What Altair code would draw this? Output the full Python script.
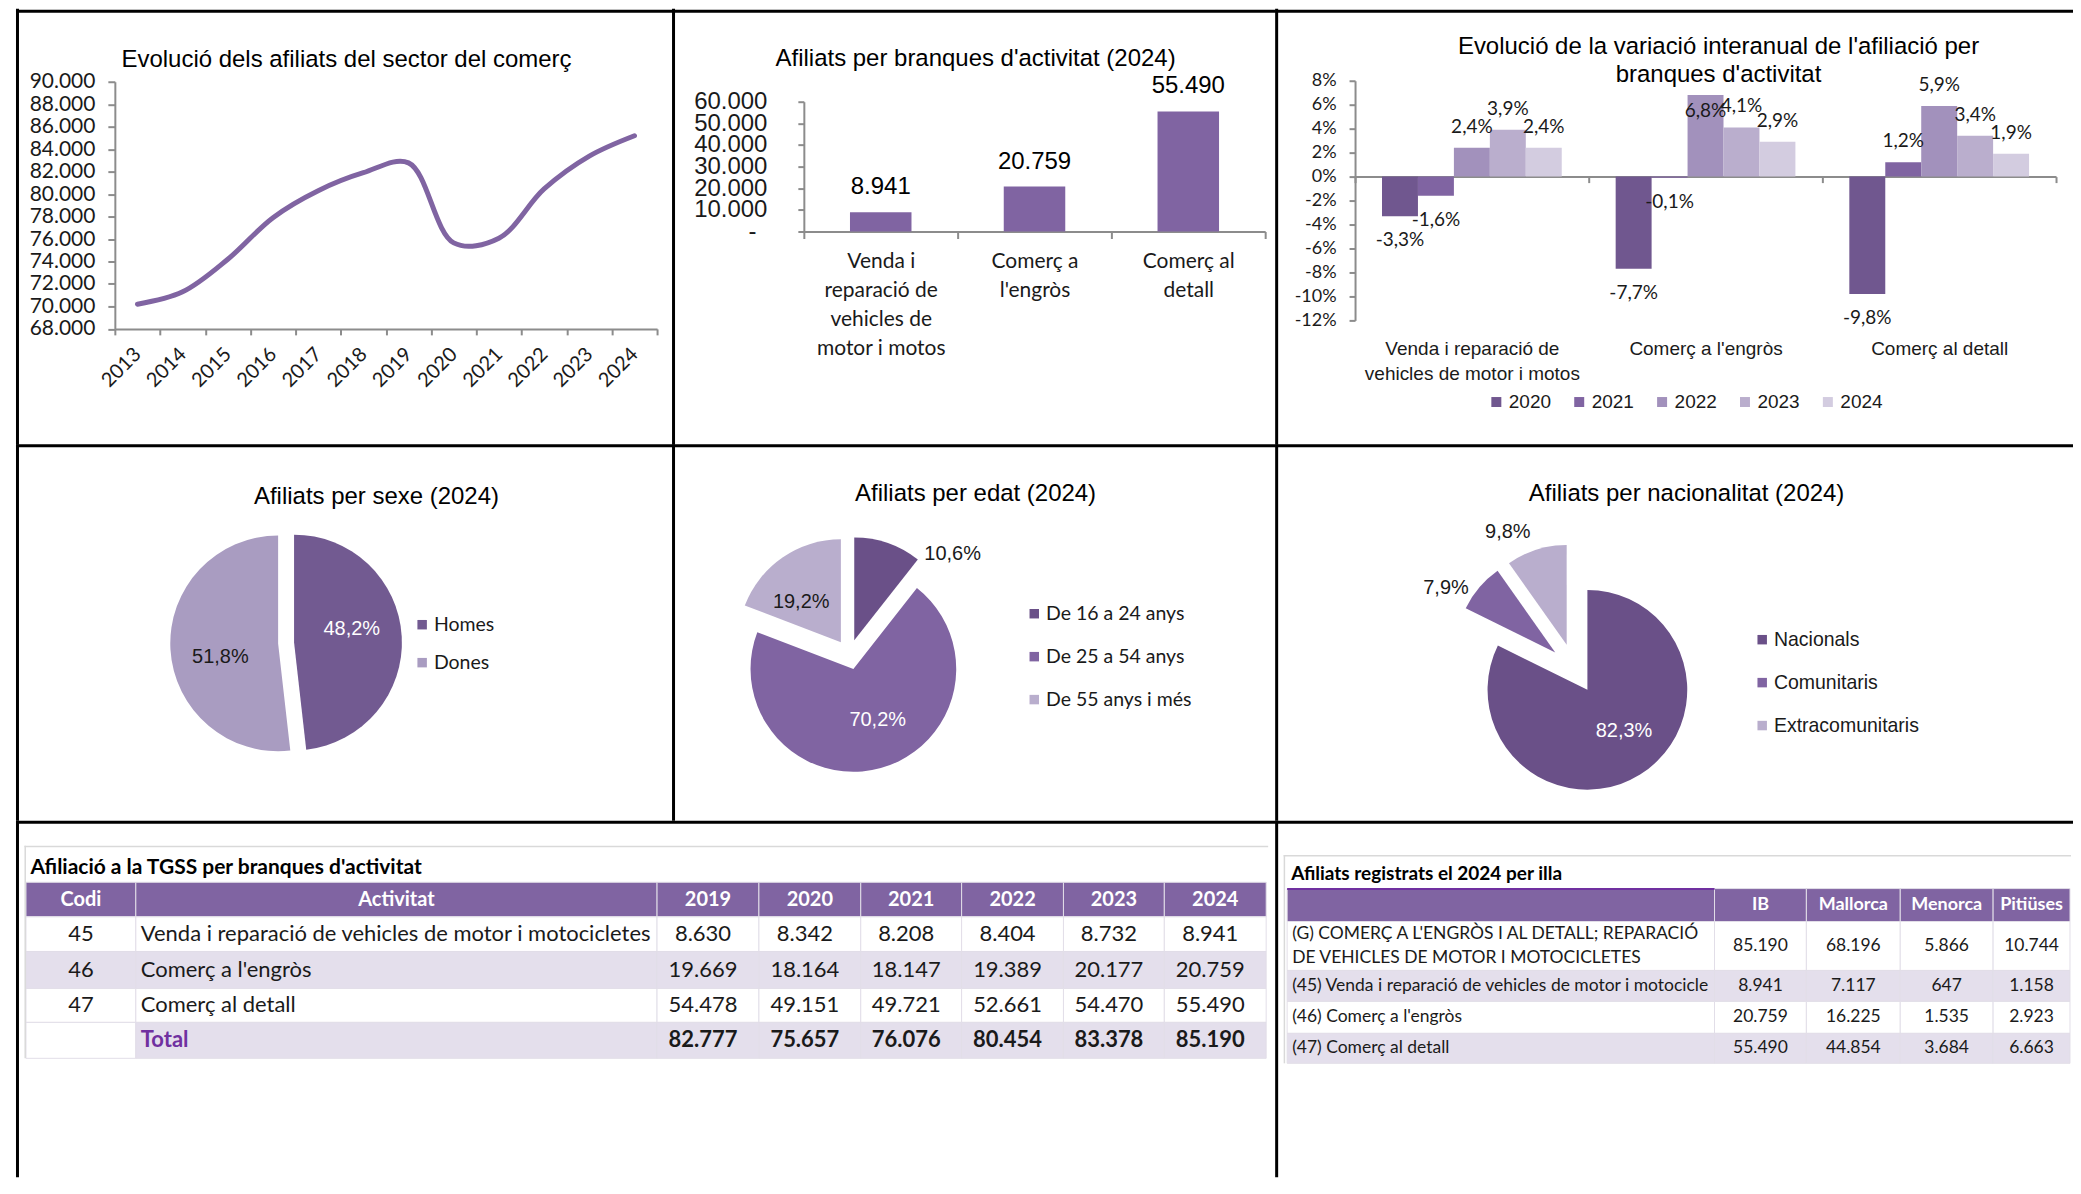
import json
import textwrap
import altair as alt
import pandas as pd

# ---------------- values ----------------
anys = ["2013", "2014", "2015", "2016", "2017", "2018", "2019", "2020", "2021", "2022", "2023", "2024"]
afiliats_comerc = [70200, 71300, 74200, 77900, 80300, 81900, 82777, 75657, 76076, 80454, 83378, 85190]

branques = ["Venda i reparació de vehicles de motor i motos", "Comerç a l'engròs", "Comerç al detall"]
afiliats_branca_2024 = [8941, 20759, 55490]

anys_var = ["2020", "2021", "2022", "2023", "2024"]
var_venda = [-3.3, -1.6, 2.4, 3.9, 2.4]
var_engros = [-7.7, -0.1, 6.8, 4.1, 2.9]
var_detall = [-9.8, 1.2, 5.9, 3.4, 1.9]

sexe = ["Homes", "Dones"]
sexe_pct = [48.2, 51.8]
edat = ["De 16 a 24 anys", "De 25 a 54 anys", "De 55 anys i més"]
edat_pct = [10.6, 70.2, 19.2]
nacionalitat = ["Nacionals", "Comunitaris", "Extracomunitaris"]
nacionalitat_pct = [82.3, 7.9, 9.8]

codis = ["45", "46", "47"]
activitats = ["Venda i reparació de vehicles de motor i motocicletes", "Comerç a l'engròs", "Comerç al detall"]
anys_taula = ["2019", "2020", "2021", "2022", "2023", "2024"]
taula_45 = [8630, 8342, 8208, 8404, 8732, 8941]
taula_46 = [19669, 18164, 18147, 19389, 20177, 20759]
taula_47 = [54478, 49151, 49721, 52661, 54470, 55490]
taula_total = [82777, 75657, 76076, 80454, 83378, 85190]

illes = ["IB", "Mallorca", "Menorca", "Pitiüses"]
files_illa = ["(G) COMERÇ A L'ENGRÒS I AL DETALL; REPARACIÓ DE VEHICLES DE MOTOR I MOTOCICLETES",
              "(45) Venda i reparació de vehicles de motor i motocicletes",
              "(46) Comerç a l'engròs",
              "(47) Comerç al detall"]
illa_ib = [85190, 8941, 20759, 55490]
illa_mallorca = [68196, 7117, 16225, 44854]
illa_menorca = [5866, 647, 1535, 3684]
illa_pitiuses = [10744, 1158, 2923, 6663]

# ---------------- styles ----------------
ARIAL = "Liberation Sans"
CAL = "Lato"
PURPLE = "#8064A2"
LAV = "#E4DFEC"
AXG = "#8C8C8C"
INK = "#1A1A1A"
FRAME = "#D9D9D9"
VAR_COLORS = ["#70578F", "#8064A2", "#A291BC", "#BAAECD", "#D3CCE0"]
SEXE_COLORS = ["#725A91", "#A99CC1"]
EDAT_COLORS = ["#6A5088", "#8064A2", "#B9AECD"]
NAC_COLORS = ["#6A5088", "#8064A2", "#B9AECD"]

DUMMY = pd.DataFrame({"k": [0]})
NUM = "replace(format({}, ','), ',', '.')"
IND = dict(x="independent", y="independent", color="independent", xOffset="independent",
           theta="independent")


def indep(ch):
    return ch.resolve_scale(**IND).resolve_axis(x="independent", y="independent").resolve_legend(
        color="independent")


def band(x1, x2, y1, y2, color="black"):
    # solid line drawn as a filled rectangle (exact bounds, no stroke padding)
    return alt.Chart(DUMMY).mark_rect(color=color).encode(
        x=alt.value(x1), x2=alt.value(x2), y=alt.value(y1), y2=alt.value(y2))


def borders(w, h, top_y):
    return [band(0, 3, 0, h), band(0, w, top_y - 1.5, top_y + 1.5)]


def label(txt, x, y, size=24, font=ARIAL, align="center", weight="normal", color="black"):
    return alt.Chart(DUMMY).mark_text(text=txt, font=font, fontSize=size, align=align,
                                      baseline="alphabetic", fontWeight=weight, color=color).encode(
        x=alt.value(x), y=alt.value(y))


def wrap_expr(cats, width):
    out = ""
    for c in cats:
        out += "datum.label == %s ? %s : " % (json.dumps(c, ensure_ascii=False),
                                              json.dumps(textwrap.wrap(c, width), ensure_ascii=False))
    return out + "''"


def axis(**kw):
    base = dict(title=None, grid=False, domainColor=AXG, domainWidth=2, tickColor=AXG, tickWidth=2,
                labelColor=INK, labelOverlap=False, labelFlush=False, labelLimit=0)
    base.update(kw)
    return alt.Axis(**base)


# ---------------- cell sizes ----------------
WA, WB, WC = 657, 604, 799
H1, H2, H3 = 436, 377, 357
WG, WH = 1261, 799

# ================= A: line chart =================
dfA = pd.DataFrame({"any": anys, "afiliats": afiliats_comerc})
lineA = alt.Chart(dfA).mark_line(color=PURPLE, strokeWidth=5, interpolate="catmull-rom",
                                 strokeCap="round").encode(
    x=alt.X("any:O", scale=alt.Scale(type="band", domain=anys, range=[99, 642], paddingInner=0, paddingOuter=0),
            axis=axis(orient="bottom", offset=320.5 - H1, tickBand="extent", tickSize=6, labelAngle=315,
                      labelAlign="right", labelBaseline="middle", labelPadding=16, labelFont=CAL,
                      labelFontSize=20)),
    y=alt.Y("afiliats:Q", scale=alt.Scale(domain=[68000, 90000], range=[320.5, 73], nice=False, zero=False),
            axis=axis(orient="left", offset=-99, values=list(range(68000, 90001, 2000)), tickSize=7,
                      labelExpr=NUM.format("datum.value"), labelPadding=13, labelFont=CAL, labelFontSize=21)),
)
cellA = alt.layer(
    lineA,
    label("Evolució dels afiliats del sector del comerç", 331, 58),
    *borders(WA, H1, 2.5),
).properties(width=WA, height=H1)

# ================= B: bars 2024 =================
dfB = pd.DataFrame({"branca": branques, "afiliats": afiliats_branca_2024})
baseB = alt.Chart(dfB).encode(
    x=alt.X("branca:N", sort=branques,
            scale=alt.Scale(type="band", domain=branques, range=[132, 594], paddingInner=0, paddingOuter=0),
            axis=axis(orient="bottom", offset=223 - H1, tickBand="extent", tickSize=7, labelAngle=0,
                      labelAlign="center", labelBaseline="top", labelPadding=12, labelFont=CAL,
                      labelFontSize=21, labelLineHeight=29, labelExpr=wrap_expr(branques, 13))),
    y=alt.Y("afiliats:Q", scale=alt.Scale(domain=[0, 60000], range=[223, 93], nice=False),
            axis=axis(orient="left", offset=-132, values=list(range(0, 60001, 10000)), tickSize=6,
                      labelExpr="datum.value == 0 ? '' : " + NUM.format("datum.value"),
                      labelPadding=31, labelFont=ARIAL, labelFontSize=24)),
)
barsB = baseB.mark_bar(color=PURPLE, width={"band": 0.4})
textB = baseB.transform_calculate(lbl=NUM.format("datum.afiliats")).mark_text(
    font=ARIAL, fontSize=24, baseline="middle", dy=-25, color="black").encode(text="lbl:N")
# accounting-style "-" label for the zero tick (sits left of the other labels)
zeroB = alt.Chart(DUMMY).transform_calculate(z="0").mark_point(opacity=0).encode(
    y=alt.Y("z:Q", scale=alt.Scale(domain=[0, 60000], range=[223, 93], nice=False),
            axis=axis(orient="left", offset=-132, values=[0], labelExpr="'-'", domain=False, ticks=False,
                      tickSize=0, labelPadding=48, labelFont=ARIAL, labelFontSize=24)))
cellB = alt.layer(
    alt.layer(barsB, textB), zeroB,
    label("Afiliats per branques d'activitat (2024)", 304, 57),
    *borders(WB, H1, 2.5),
).resolve_scale(y="independent").properties(width=WB, height=H1)

# ================= C: grouped variation bars =================
recC = []
for b, vals in zip(branques, [var_venda, var_engros, var_detall]):
    for a, v in zip(anys_var, vals):
        recC.append({"branca": b, "any": a, "var": v})
dfC = pd.DataFrame(recC)
xC = alt.X("branca:N", sort=branques,
           scale=alt.Scale(type="band", domain=branques, range=[80, 782], paddingInner=0, paddingOuter=0),
           axis=axis(orient="bottom", offset=168 - H1, tickBand="extent", tickSize=6, labelAngle=0,
                     labelAlign="center", labelBaseline="top", labelPadding=157, labelFont=ARIAL,
                     labelFontSize=19, labelLineHeight=25, labelExpr=wrap_expr(branques, 25)))
xoC = alt.XOffset("any:N", scale=alt.Scale(domain=anys_var, paddingInner=0, paddingOuter=0.75))
yC = alt.Y("var:Q", scale=alt.Scale(domain=[-12, 8], range=[312, 72], nice=False),
           axis=axis(orient="left", offset=-80, values=list(range(-12, 9, 2)), tickSize=6,
                     labelExpr="datum.value + '%'", labelPadding=13, labelFont=CAL, labelFontSize=18))
baseC = alt.Chart(dfC).encode(x=xC, xOffset=xoC, y=yC)
barsC = baseC.mark_bar().encode(
    color=alt.Color("any:N", scale=alt.Scale(domain=anys_var, range=VAR_COLORS),
                    legend=alt.Legend(orient="none", direction="horizontal", legendX=212, legendY=384,
                                      title=None, symbolType="square", symbolSize=100, symbolStrokeWidth=0,
                                      labelFont=ARIAL, labelFontSize=19, labelColor=INK, columnPadding=18,
                                      labelOffset=3, padding=0)))
lblC = "replace(toString(datum.var), '.', ',') + '%'"
txtC_kw = dict(font=CAL, fontSize=19, baseline="middle", color=INK)
textC_pos = baseC.transform_filter("datum.var > 0 && datum.var < 6").transform_calculate(lbl=lblC).mark_text(
    dy=-21, **txtC_kw).encode(text="lbl:N")
textC_big = baseC.transform_filter("datum.var >= 6").transform_calculate(lbl=lblC).mark_text(
    dy=16, **txtC_kw).encode(text="lbl:N")
textC_neg = baseC.transform_filter("datum.var < 0").transform_calculate(lbl=lblC).mark_text(
    dy=24, **txtC_kw).encode(text="lbl:N")
cellC = alt.layer(
    barsC, textC_pos, textC_big, textC_neg,
    label("Evolució de la variació interanual de l'afiliació per", 444, 45),
    label("branques d'activitat", 444, 73),
    *borders(WC, H1, 2.5),
).properties(width=WC, height=H1)


# ================= pies =================
def pie(cats, pct, colors, cx, cy, r, ex, title, tx, ty, lx, ly, rowpad, lfont, w, h):
    df = pd.DataFrame({"cat": cats, "pct": pct, "order": list(range(len(cats)))})
    base = alt.Chart(df).transform_window(
        cum="sum(pct)", sort=[alt.SortField("order")], frame=[None, 0]
    ).transform_joinaggregate(n="count()").transform_calculate(
        start="datum.cum - datum.pct",
        mid="(datum.cum - datum.pct / 2) / 100 * 2 * PI",
    ).transform_calculate(
        px=f"{cx} + {ex} * sin(datum.mid)",
        py=f"{cy} - {ex} * cos(datum.mid)",
        inside="datum.pct >= 15",
    ).transform_calculate(
        # best-fit label placement: inside labels a bit before the bisector, small slices outside
        la="datum.inside ? datum.mid - 0.1745 : (sin(datum.mid) > 0 ? datum.mid + 0.52 : datum.mid - 0.1745)",
        k="datum.inside ? 0.55 : 1.27",
    ).transform_calculate(
        lx=f"datum.px + {r} * datum.k * sin(datum.la)",
        ly=f"datum.py - {r} * datum.k * cos(datum.la)",
        lbl="replace(toString(datum.pct), '.', ',') + '%'",
    )
    arcs = base.mark_arc(outerRadius=r).encode(
        theta=alt.Theta("start:Q", scale=alt.Scale(domain=[0, 100], range=[0, 6.283185307179586]), stack=None),
        theta2="cum:Q",
        x=alt.X("px:Q", scale=None, axis=None),
        y=alt.Y("py:Q", scale=None, axis=None),
        color=alt.Color("cat:N", sort=cats, scale=alt.Scale(domain=cats, range=colors),
                        legend=alt.Legend(orient="none", direction="vertical", legendX=lx, legendY=ly,
                                          title=None, symbolType="square", symbolSize=90, symbolStrokeWidth=0,
                                          labelFont=lfont, labelFontSize=19.5, labelColor=INK,
                                          rowPadding=rowpad, labelOffset=2, padding=0)),
    )
    texts = base.mark_text(font=ARIAL, fontSize=20, baseline="middle", align="center").encode(
        x=alt.X("lx:Q", scale=None, axis=None),
        y=alt.Y("ly:Q", scale=None, axis=None),
        text="lbl:N",
        color=alt.condition("datum.inside && datum.order < datum.n - 1", alt.value("white"), alt.value(INK)),
    )
    return alt.layer(arcs, texts, label(title, tx, ty), *borders(w, h, 1.5)).properties(width=w, height=h)


cellD = pie(sexe, sexe_pct, SEXE_COLORS, 270.5, 199, 108, 8, "Afiliats per sexe (2024)", 361, 59.5,
            397, 171, 17, CAL, WA, H2)
cellE = pie(edat, edat_pct, EDAT_COLORS, 177.6, 210.6, 103, 15, "Afiliats per edat (2024)", 304, 56.5,
            353, 160, 22, CAL, WB, H2)
cellF = pie(nacionalitat, nacionalitat_pct, NAC_COLORS, 299.5, 224.7, 100, 25,
            "Afiliats per nacionalitat (2024)", 412, 56.5, 478, 186, 22, ARIAL, WC, H2)


# ================= tables =================
def table_cell(grid, col_w, row_h, x0, y0, W, H, fsize, hsize, limit_first, num_dx, line_h, extra):
    xe = [x0]
    for cw in col_w:
        xe.append(xe[-1] + cw)
    ye = [y0]
    for rh in row_h:
        ye.append(ye[-1] + rh)
    recs = []
    for ri, row in enumerate(grid):
        for ci, cell in enumerate(row):
            rec = {"x1": xe[ci], "x2": xe[ci + 1], "y1": ye[ri], "y2": ye[ri + 1],
                   "txt": cell.get("txt", ""), "val": cell.get("val"), "fill": cell["fill"], "kind": cell["kind"]}
            recs.append(rec)
    df = pd.DataFrame(recs)
    sx = alt.Scale(domain=[0, W], range=[0, W])
    sy = alt.Scale(domain=[0, H], range=[0, H])
    base = alt.Chart(df)
    rects = base.mark_rect(stroke="#E2DEE8", strokeWidth=1).encode(
        x=alt.X("x1:Q", scale=sx, axis=None), x2="x2:Q",
        y=alt.Y("y1:Q", scale=sy, axis=None), y2="y2:Q",
        color=alt.Color("fill:N", scale=alt.Scale(domain=["h", "w", "l"], range=[PURPLE, "white", LAV]),
                        legend=None))
    tb = base.transform_calculate(
        lbl="isValid(datum.val) ? " + NUM.format("datum.val") + " : datum.txt",
    ).transform_calculate(
        cxm=f"(datum.x1 + datum.x2) / 2 + (isValid(datum.val) ? {num_dx} : 0)",
        lxm="datum.x1 + 5",
        ym=f"(datum.y1 + datum.y2) / 2 - (length(split(datum.lbl, '\\n')) - 1) * {line_h} / 2")

    def tl(kind, xfield, align, weight, color, size, **kw):
        return tb.transform_filter(f"datum.kind == '{kind}'").mark_text(
            align=align, baseline="middle", font=CAL, fontSize=size, fontWeight=weight, color=color,
            lineBreak="\n", lineHeight=line_h, **kw).encode(
            x=alt.X(f"{xfield}:Q", scale=sx, axis=None), y=alt.Y("ym:Q", scale=sy, axis=None), text="lbl:N")

    layers = [rects,
              tl("hdr", "cxm", "center", "bold", "white", hsize),
              tl("c", "cxm", "center", "normal", INK, fsize),
              tl("l", "lxm", "left", "normal", INK, fsize, limit=limit_first, ellipsis=" "),
              tl("tl", "lxm", "left", "bold", "#7030A0", fsize),
              tl("tc", "cxm", "center", "bold", INK, fsize)]
    return layers + extra


# left table
gridG = [[{"txt": t, "fill": "h", "kind": "hdr"} for t in ["Codi", "Activitat"] + anys_taula]]
for i, (cd, act, vals) in enumerate(zip(codis, activitats, [taula_45, taula_46, taula_47])):
    f = "w" if i % 2 == 0 else "l"
    gridG.append([{"txt": cd, "fill": f, "kind": "c"}, {"txt": act, "fill": f, "kind": "l"}] +
                 [{"val": v, "fill": f, "kind": "c"} for v in vals])
gridG.append([{"txt": "", "fill": "w", "kind": "c"}, {"txt": "Total", "fill": "l", "kind": "tl"}] +
             [{"val": v, "fill": "l", "kind": "tc"} for v in taula_total])
layersG = table_cell(gridG, [110, 522, 102, 102, 101, 102, 101, 102], [34.6, 34.7, 37, 34, 36], 10, 61.7,
                     WG, H3, 22, 20, 516, -5, 24,
                     [band(8.5, 1254, 25, 26.5, FRAME), band(8.5, 10, 25, 238, FRAME),
                      label("Afiliació a la TGSS per branques d'activitat", 14.5, 53, 21, CAL, "left", "bold")])
cellG = alt.layer(*layersG, *borders(WG, H3, 1.5)).properties(width=WG, height=H3)

# right table
gridH = [[{"txt": "", "fill": "h", "kind": "hdr"}] + [{"txt": t, "fill": "h", "kind": "hdr"} for t in illes]]
for i, fila in enumerate(files_illa):
    f = "w" if i % 2 == 0 else "l"
    txt = "\n".join(textwrap.wrap(fila, 45)) if i == 0 else fila
    gridH.append([{"txt": txt, "fill": f, "kind": "l"}] +
                 [{"val": col[i], "fill": f, "kind": "c"} for col in [illa_ib, illa_mallorca, illa_menorca,
                                                                      illa_pitiuses]])
layersH = table_cell(gridH, [428, 92, 94, 93, 77], [33, 49, 31, 32, 30], 12, 68, WH, H3, 17.5, 18, 424, 0, 24,
                     [band(8.5, WH - 2, 34.5, 36, FRAME), band(8.5, 10, 34.5, 243, FRAME),
                      band(12, 440, 67.5, 69.5, "#7030A0"),
                      label("Afiliats registrats el 2024 per illa", 16, 59, 19, CAL, "left", "bold")])
cellH = alt.layer(*layersH, *borders(WH, H3, 1.5)).properties(width=WH, height=H3)

row1 = indep(alt.hconcat(cellA, cellB, cellC, spacing=0))
row2 = indep(alt.hconcat(cellD, cellE, cellF, spacing=0))
row3 = indep(alt.hconcat(cellG, cellH, spacing=0))

chart = indep(alt.vconcat(row1, row2, row3, spacing=0)).properties(
    padding=0, background="white"
).configure(padding=0).configure_view(stroke=None)

chart.save("out.html", embed_options={"renderer": "svg", "actions": False})
